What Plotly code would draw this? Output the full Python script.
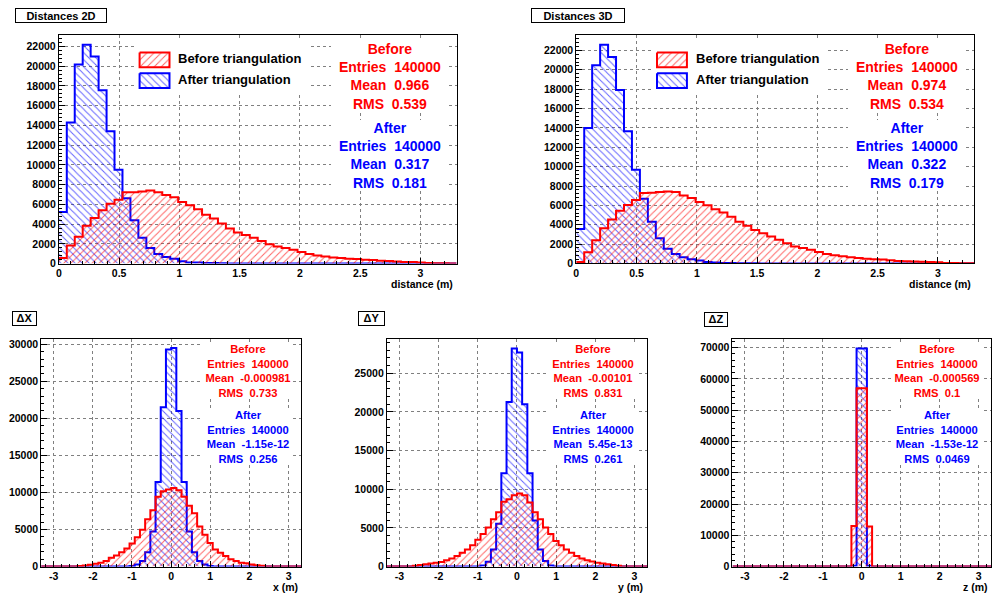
import numpy as np
import plotly.graph_objects as go

W, H = 992, 599

# ---------------- binning ----------------
n_bins = 50
dist_range = [0.0, 3.3]
delta_range = [-3.32, 3.32]

# ---------------- Distances 2D ----------------
dist2d_before = [570, 1830, 2730, 3830, 4630, 5400, 6070, 6460, 7230, 7230,
                 7300, 7400, 7230, 6960, 6730, 6230, 5900, 5500, 4960, 4560,
                 4060, 3560, 3160, 2900, 2630, 2300, 1960, 1730, 1570, 1400,
                 1170, 970, 830, 730, 630, 570, 500, 470, 400, 370,
                 300, 260, 200, 170, 150, 120, 60, 40, 30, 20]
dist2d_after = [5240, 14300, 20170, 22170, 20970, 17570, 13400, 9500, 6630, 4400,
                2630, 1570, 970, 670, 500, 230, 100, 100, 50, 50,
                30, 20, 20, 10, 10, 10, 5, 5, 0, 0,
                0, 0, 0, 0, 0, 0, 0, 0, 0, 0,
                0, 0, 0, 0, 0, 0, 0, 0, 0, 0]

# ---------------- Distances 3D ----------------
dist3d_before = [150, 1150, 2400, 3650, 4550, 5450, 6050, 6550, 7270, 7300,
                 7370, 7440, 7370, 7030, 6760, 6350, 6010, 5600, 5260, 4820,
                 4310, 3900, 3460, 3120, 2780, 2440, 2100, 1760, 1590, 1420,
                 1180, 980, 840, 740, 640, 570, 500, 440, 400, 330,
                 270, 240, 200, 170, 150, 120, 60, 40, 30, 20]
dist3d_after = [3560, 14000, 20470, 22580, 21320, 17920, 13660, 9680, 6690, 4300,
                2600, 1520, 980, 640, 440, 300, 150, 100, 60, 40,
                30, 20, 20, 10, 10, 10, 5, 5, 0, 0,
                0, 0, 0, 0, 0, 0, 0, 0, 0, 0,
                0, 0, 0, 0, 0, 0, 0, 0, 0, 0]

# ---------------- Delta X ----------------
dx_before = [0, 0, 0, 0, 0, 0, 0,
             80, 150, 250, 400, 530, 755, 1200, 1510, 1950, 2440, 3110, 3950,
             4970, 6390, 7600, 9410, 10170, 10390,
             10610, 10300, 9410, 8200, 7190, 5420, 4310, 3200, 2310, 1860,
             1420, 980, 755, 530, 450, 300, 200, 100,
             0, 0, 0, 0, 0, 0, 0]
dx_after = [0] * 17 + [80, 300, 750, 1950, 4750, 11400, 21500, 29300,
                       29500, 21000, 11400, 4750, 1950, 750, 300, 80] + [0] * 17

# ---------------- Delta Y ----------------
dy_before = [0, 0, 0, 0, 0,
             100, 200, 300, 400, 500, 600, 810, 1060, 1360, 1790,
             2210, 2770, 3490, 4210, 5060, 6130, 7020, 8380, 8720, 9230,
             9450, 9230, 8300, 7020, 6130, 5060, 4210, 3300, 2770, 2210,
             1790, 1360, 1060, 810, 650, 500, 400, 300, 200, 100,
             0, 0, 0, 0, 0]
dy_after = [0] * 18 + [150, 640, 2210, 5530, 12080, 21300, 28200,
                       27700, 21000, 12080, 5960, 2210, 720, 150] + [0] * 18

# ---------------- Delta Z ----------------
dz_before = [0] * 23 + [13000, 57000, 57000, 12800] + [0] * 23
dz_after = [0] * 23 + [300, 69700, 69700, 300] + [0] * 23

# ---------------- statistics text ----------------
stats_2d_before = ["140000", "0.966", "0.539"]
stats_2d_after = ["140000", "0.317", "0.181"]
stats_3d_before = ["140000", "0.974", "0.534"]
stats_3d_after = ["140000", "0.322", "0.179"]
stats_dx_before = ["140000", "-0.000981", "0.733"]
stats_dx_after = ["140000", "-1.15e-12", "0.256"]
stats_dy_before = ["140000", "-0.00101", "0.831"]
stats_dy_after = ["140000", "5.45e-13", "0.261"]
stats_dz_before = ["140000", "-0.000569", "0.1"]
stats_dz_after = ["140000", "-1.53e-12", "0.0469"]

# ---------------- tick labels ----------------
dist_xtick_labels = ["0", "0.5", "1", "1.5", "2", "2.5", "3"]
delta_xtick_labels = ["-3", "-2", "-1", "0", "1", "2", "3"]
dist_ytick_labels = ["0", "2000", "4000", "6000", "8000", "10000", "12000",
                     "14000", "16000", "18000", "20000", "22000"]
delta_ytick_labels = ["0", "5000", "10000", "15000", "20000", "25000", "30000"]
dz_ytick_labels = ["0", "10000", "20000", "30000", "40000", "50000", "60000", "70000"]

titles = ["Distances 2D", "Distances 3D", "\u0394X", "\u0394Y", "\u0394Z"]
legend_labels = ["Before triangulation", "After triangulation"]

RED = "#ff0000"
BLUE = "#0000ff"
FONT = "Liberation Sans, Arial, Helvetica, sans-serif"

# ---------------- layout geometry (pixels) ----------------
# frame: (left, top, right, bottom)
panels = [
    dict(key="d2", xa="x", ya="y", frame=(56, 34.3, 455, 265.7), xr=dist_range, yr=[0, 23170],
         before=dist2d_before, after=dist2d_after, xlab=dist_xtick_labels, ylab=dist_ytick_labels,
         xminor=0.1, yminor=400, title=titles[0], tbox=(12, 7, 92, 15),
         sb=stats_2d_before, sa=stats_2d_after, scx=388, sbt=40, sat=120, sw=118, sfs=14,
         axt="distance (m)", axt_pos=(453.5, 286.5)),
    dict(key="d3", xa="x2", ya="y2", frame=(575, 34.3, 974, 265.6), xr=dist_range, yr=[0, 23600],
         before=dist3d_before, after=dist3d_after, xlab=dist_xtick_labels, ylab=dist_ytick_labels,
         xminor=0.1, yminor=400, title=titles[1], tbox=(530, 7, 94, 15),
         sb=stats_3d_before, sa=stats_3d_after, scx=907, sbt=40, sat=120, sw=118, sfs=14,
         axt="distance (m)", axt_pos=(973, 286.5)),
    dict(key="dx", xa="x3", ya="y3", frame=(38.3, 341.7, 299, 572.3), xr=delta_range, yr=[0, 30750],
         before=dx_before, after=dx_after, xlab=delta_xtick_labels, ylab=delta_ytick_labels,
         xminor=0.2, yminor=1000, title=titles[2], tbox=(9, 314, 25, 14.5),
         sb=stats_dx_before, sa=stats_dx_after, scx=246, sbt=346.5, sat=412.5, sw=90, sfs=11.2,
         axt="x (m)", axt_pos=(298, 593)),
    dict(key="dy", xa="x4", ya="y4", frame=(385, 341.7, 646, 572.3), xr=delta_range, yr=[0, 29470],
         before=dy_before, after=dy_after, xlab=delta_xtick_labels, ylab=delta_ytick_labels,
         xminor=0.2, yminor=1000, title=titles[3], tbox=(356, 314, 27, 14.5),
         sb=stats_dy_before, sa=stats_dy_after, scx=592, sbt=346.5, sat=412.5, sw=90, sfs=11.2,
         axt="y (m)", axt_pos=(643.5, 593)),
    dict(key="dz", xa="x5", ya="y5", frame=(731.7, 341.7, 991, 572.3), xr=delta_range, yr=[0, 72840],
         before=dz_before, after=dz_after, xlab=delta_xtick_labels, ylab=dz_ytick_labels,
         xminor=0.2, yminor=2000, title=titles[4], tbox=(703, 314.5, 24, 14.5),
         sb=stats_dz_before, sa=stats_dz_after, scx=937, sbt=346.5, sat=412.5, sw=90, sfs=11.2,
         axt="z (m)", axt_pos=(990, 593)),
]

# legend geometry for the two top panels (pixels)
legend_panels = [
    dict(xa="x6", ya="y6", over_x="x", over_y="y", frame=panels[0]["frame"], dx=0),
    dict(xa="x7", ya="y7", over_x="x2", over_y="y2", frame=panels[1]["frame"], dx=519),
]
legend_box = (133, 40, 306, 95)
swatch_before = (137, 52, 167, 67)
swatch_after = (137, 73, 167, 88)
legend_text_x = 174
legend_text_y = (58.3, 79.3)


def hist_trace(edges, counts, color, shape, xa, ya):
    y = list(counts) + [counts[-1]]
    return go.Scatter(
        x=edges, y=y, mode="lines",
        line=dict(color=color, width=2, shape="hv"),
        fill="tozeroy", fillcolor="rgba(255,255,255,0)",
        fillpattern=dict(shape=shape, fgcolor=color, bgcolor="rgba(255,255,255,0)",
                         fgopacity=0.6, size=5, solidity=0.2),
        xaxis=xa, yaxis=ya, hoverinfo="skip", showlegend=False,
    )


fig = go.Figure()
layout = dict(
    width=W, height=H, margin=dict(l=0, r=0, t=0, b=0, pad=0),
    paper_bgcolor="white", plot_bgcolor="white", showlegend=False,
)
annotations = []
tickfont = dict(family=FONT, size=10.5, color="black", weight="bold")

for p in panels:
    x0, y0, x1, y1 = p["frame"]
    edges = np.linspace(p["xr"][0], p["xr"][1], n_bins + 1)
    fig.add_trace(hist_trace(edges, p["after"], BLUE, "\\", p["xa"], p["ya"]))
    fig.add_trace(hist_trace(edges, p["before"], RED, "/", p["xa"], p["ya"]))

    xname = "xaxis" + p["xa"][1:]
    yname = "yaxis" + p["ya"][1:]
    common = dict(showline=True, mirror=True, linecolor="black", linewidth=1,
                  ticks="inside", tickcolor="black", tickwidth=1, ticklen=6,
                  showgrid=True, gridcolor="#808080", griddash="dot", gridwidth=1,
                  zeroline=False, tickfont=tickfont, fixedrange=True, tickmode="array")
    layout[xname] = dict(
        common, domain=[x0 / W, x1 / W], range=p["xr"], anchor=p["ya"],
        tickvals=[float(s) for s in p["xlab"]], ticktext=p["xlab"],
        minor=dict(tickmode="linear", tick0=0, dtick=p["xminor"], ticks="inside",
                   ticklen=3, tickcolor="black", showgrid=False),
    )
    layout[yname] = dict(
        common, domain=[1 - y1 / H, 1 - y0 / H], range=p["yr"], anchor=p["xa"],
        tickvals=[int(s) for s in p["ylab"]], ticktext=p["ylab"],
        minor=dict(tickmode="linear", tick0=0, dtick=p["yminor"], ticks="inside",
                   ticklen=3, tickcolor="black", showgrid=False),
    )

    # title box
    tx, ty, tw, th = p["tbox"]
    annotations.append(dict(
        text=p["title"], x=tx / W, y=1 - ty / H, xref="paper", yref="paper",
        xanchor="left", yanchor="top", showarrow=False, bgcolor="white",
        bordercolor="black", borderwidth=1, borderpad=1, width=tw - 4, height=th - 4,
        font=dict(family=FONT, size=11, color="black", weight="bold"),
    ))

    # statistics blocks
    nb = "\u00a0\u00a0"
    for head, vals, color, top in (("Before", p["sb"], RED, p["sbt"]),
                                   ("After", p["sa"], BLUE, p["sat"])):
        txt = "<br>".join([head, "Entries" + nb + vals[0], "Mean" + nb + vals[1], "RMS" + nb + vals[2]])
        annotations.append(dict(
            text=txt, x=p["scx"] / W, y=1 - top / H, xref="paper", yref="paper",
            xanchor="center", yanchor="top", showarrow=False, align="center",
            bgcolor="white", borderpad=0, borderwidth=0, width=p["sw"],
            font=dict(family=FONT, size=p["sfs"], color=color, weight="bold"),
        ))

    # axis title
    ax_x, ax_y = p["axt_pos"]
    annotations.append(dict(
        text=p["axt"], x=ax_x / W, y=1 - ax_y / H, xref="paper", yref="paper",
        xanchor="right", yanchor="middle", showarrow=False,
        font=dict(family=FONT, size=10.5, color="black", weight="bold"),
    ))

# legends (drawn on overlay axes measured in pixels)
for lp in legend_panels:
    x0, y0, x1, y1 = lp["frame"]
    d = lp["dx"]
    layout["xaxis" + lp["xa"][1:]] = dict(overlaying=lp["over_x"], anchor=lp["ya"], range=[x0, x1],
                                          visible=False, fixedrange=True)
    layout["yaxis" + lp["ya"][1:]] = dict(overlaying=lp["over_y"], anchor=lp["xa"], range=[y1, y0],
                                          visible=False, fixedrange=True)
    bx0, by0, bx1, by1 = legend_box
    fig.add_trace(go.Scatter(
        x=[bx0 + d, bx1 + d, bx1 + d, bx0 + d, bx0 + d], y=[by0, by0, by1, by1, by0],
        mode="lines", line=dict(width=0, color="white"), fill="toself", fillcolor="white",
        xaxis=lp["xa"], yaxis=lp["ya"], hoverinfo="skip", showlegend=False))
    for (sx0, sy0, sx1, sy1), color, shape in ((swatch_before, RED, "/"), (swatch_after, BLUE, "\\")):
        fig.add_trace(go.Scatter(
            x=[sx0 + d, sx1 + d, sx1 + d, sx0 + d, sx0 + d], y=[sy0, sy0, sy1, sy1, sy0],
            mode="lines", line=dict(width=2, color=color), fill="toself",
            fillcolor="rgba(255,255,255,0)",
            fillpattern=dict(shape=shape, fgcolor=color, bgcolor="rgba(255,255,255,0)",
                             fgopacity=0.6, size=5, solidity=0.2),
            xaxis=lp["xa"], yaxis=lp["ya"], hoverinfo="skip", showlegend=False))
    for label, ly in zip(legend_labels, legend_text_y):
        annotations.append(dict(
            text=label, x=(legend_text_x + d) / W, y=1 - ly / H, xref="paper", yref="paper",
            xanchor="left", yanchor="middle", showarrow=False,
            font=dict(family=FONT, size=13, color="black", weight="bold"),
        ))

layout["annotations"] = annotations
fig.update_layout(**layout)
fig.write_html(
    "out.html",
    config=dict(displayModeBar=False, staticPlot=True),
    post_script="document.body.style.margin='0px';document.body.style.overflow='hidden';",
)
